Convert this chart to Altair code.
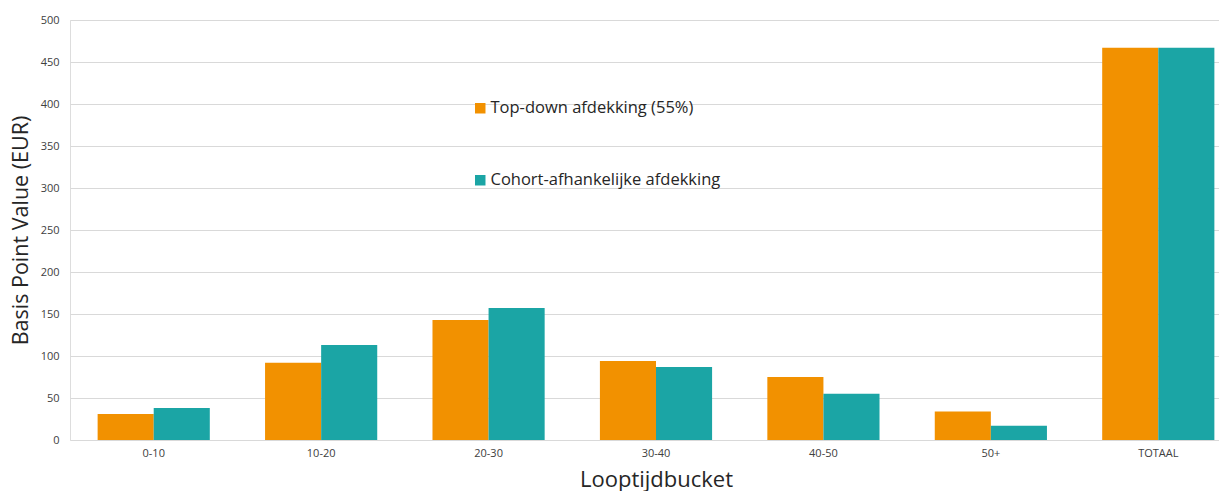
import altair as alt
import pandas as pd

# Maturity buckets and basis point values per hedging approach
buckets = ["0-10", "10-20", "20-30", "30-40", "40-50", "50+", "TOTAAL"]
top_down = [31, 92, 143, 94, 75, 34, 467]
cohort = [38, 113, 157, 87, 55, 17, 467]
series = ["Top-down afdekking (55%)", "Cohort-afhankelijke afdekking"]
colors = ["#F29100", "#1BA5A5"]

rows = []
for b, v1, v2 in zip(buckets, top_down, cohort):
    rows.append({"bucket": b, "serie": series[0], "bpv": v1})
    rows.append({"bucket": b, "serie": series[1], "bpv": v2})
df = pd.DataFrame(rows)

FONT = "Open Sans"

chart = (
    alt.Chart(df)
    .mark_bar()
    .encode(
        x=alt.X(
            "bucket:N",
            sort=buckets,
            title="Looptijdbucket",
            scale=alt.Scale(range=[0, 1172], paddingInner=0.33, paddingOuter=0.165),
            axis=alt.Axis(
                labelAngle=0,
                labelFont=FONT,
                labelFontSize=11,
                labelColor="#404040",
                labelPadding=7,
                ticks=False,
                domain=False,
                grid=False,
                titleFont=FONT,
                titleFontSize=22,
                titleFontWeight="normal",
                titleColor="#262626",
                titlePadding=11,
            ),
        ),
        xOffset=alt.XOffset("serie:N", sort=series),
        y=alt.Y(
            "bpv:Q",
            title="Basis Point Value (EUR)",
            scale=alt.Scale(domain=[0, 500], nice=False),
            axis=alt.Axis(
                values=list(range(0, 501, 50)),
                labelFont=FONT,
                labelFontSize=11,
                labelColor="#404040",
                labelPadding=11,
                ticks=False,
                domain=False,
                gridColor="#D9D9D9",
                gridWidth=1,
                titleFont=FONT,
                titleFontSize=21.5,
                titleFontWeight="normal",
                titleColor="#262626",
                titlePadding=8,
            ),
        ),
        color=alt.Color(
            "serie:N",
            sort=series,
            scale=alt.Scale(domain=series, range=colors),
            legend=alt.Legend(
                title=None,
                orient="none",
                legendX=402,
                legendY=80,
                symbolType="square",
                symbolSize=110,
                symbolStrokeWidth=0,
                labelFont=FONT,
                labelFontSize=16.5,
                labelColor="#262626",
                labelLimit=0,
                rowPadding=55,
                labelOffset=2,
            ),
        ),
    )
    .properties(
        width=1149,
        height=420,
        autosize=alt.AutoSizeParams(type="none"),
        padding={"left": 70, "top": 20, "right": 0, "bottom": 51},
    )
    .configure_view(stroke=None)
    .configure(background="white")
)

chart.save("out.html", embed_options={"renderer": "svg", "actions": False})
